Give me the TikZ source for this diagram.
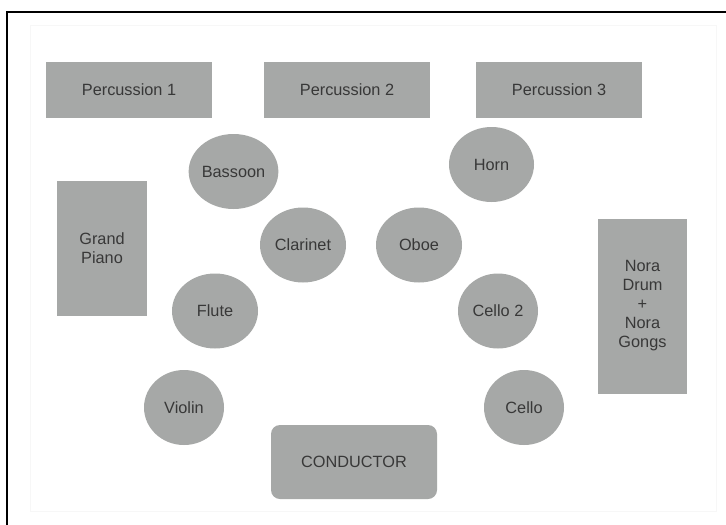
\documentclass[tikz,border=0pt]{standalone}
\usepackage{fontspec}
\setmainfont{Liberation Sans}
\usetikzlibrary{shapes.geometric}
\definecolor{seatgray}{HTML}{A6A8A7}
\definecolor{labelgray}{HTML}{383838}

\begin{document}
\begin{tikzpicture}
  [x=1pt,y=-1pt,
   every node/.style={fill=seatgray,text=labelgray,inner sep=0pt,align=center,
     font=\fontsize{16.3}{19}\selectfont},
   block/.style={rectangle,minimum width=#1},
   seat/.style={ellipse,minimum width=#1,minimum height=75pt}]
  \useasboundingbox (0,0) rectangle (726,525);
  \fill[white] (0,0) rectangle (726,525);
  \draw[gray!6,line width=1pt] (30,25) rectangle (716,511);
  \draw[line width=2pt] (7,525) -- (7,12) -- (726,12);

  \node[block=166pt,minimum height=56pt] (perc1) at (129,90)  {Percussion 1};
  \node[block=166pt,minimum height=56pt] (perc2) at (347,90)  {Percussion 2};
  \node[block=166pt,minimum height=56pt] (perc3) at (559,90)  {Percussion 3};
  \node[block=90pt,minimum height=135pt] (piano) at (102,248.5) {Grand\\Piano};
  \node[block=89pt,minimum height=175pt] (nora)  at (642.5,306) {Nora\\Drum\\+\\Nora\\Gongs};
  \node[block=166pt,minimum height=74pt,rounded corners=9pt] (cond) at (354,462) {CONDUCTOR};

  \node[seat=85pt] (bassoon)  at (233.5,171.5) {Bassoon};
  \node[seat=86pt] (clarinet) at (303,245)     {Clarinet};
  \node[seat=85pt] (horn)     at (491.5,164.5) {Horn};
  \node[seat=86pt] (oboe)     at (419,245)     {Oboe};
  \node[seat=86pt] (flute)    at (215,311)     {Flute};
  \node[seat=80pt] (violin)   at (184,407.5)   {Violin};
  \node[seat=80pt] (cellotwo) at (498,311)     {Cello 2};
  \node[seat=80pt] (cello)    at (524,407.5)   {Cello};

\end{tikzpicture}
\end{document}
